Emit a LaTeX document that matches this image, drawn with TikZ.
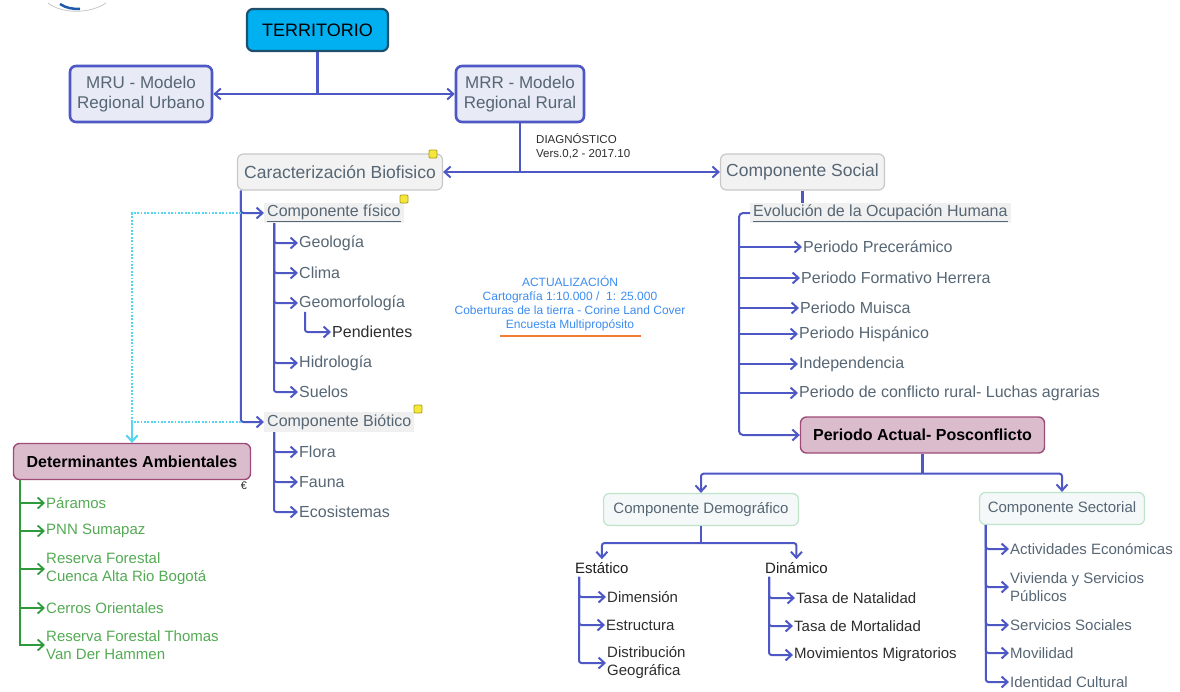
\documentclass[tikz,border=0pt]{standalone}
\usepackage{fontspec}
\setmainfont{Liberation Sans}
\usetikzlibrary{arrows.meta,calc}
\definecolor{lb}{RGB}{78,88,196}
\definecolor{tg}{RGB}{86,102,116}
\definecolor{dk}{RGB}{45,45,45}
\definecolor{blk}{RGB}{30,30,30}
\definecolor{grn}{RGB}{47,154,60}
\definecolor{grt}{RGB}{84,170,84}
\definecolor{upd}{RGB}{60,140,240}
\definecolor{cy}{RGB}{85,213,238}
\definecolor{notef}{RGB}{245,230,60}
\definecolor{noted}{RGB}{170,160,20}
\definecolor{logob}{RGB}{30,90,170}
\definecolor{terrd}{RGB}{30,80,110}
\definecolor{terrf}{RGB}{0,176,240}
\definecolor{bluef}{RGB}{232,234,246}
\definecolor{grayd}{RGB}{200,200,200}
\definecolor{grayf}{RGB}{242,242,242}
\definecolor{lblf}{RGB}{240,240,240}
\definecolor{pinkd}{RGB}{158,75,120}
\definecolor{pinkf}{RGB}{219,188,205}
\definecolor{greend}{RGB}{190,228,202}
\definecolor{greenf}{RGB}{244,248,248}
\definecolor{orng}{RGB}{240,125,50}
\tikzset{
  tip/.tip={Straight Barb[length=6pt,width=11pt]},
  conn/.style={draw=lb, line width=2pt, rounded corners=2.5pt, -tip},
  trunk/.style={draw=lb, line width=2.2pt, rounded corners=3pt},
  gconn/.style={draw=grn, line width=1.8pt, -tip},
  dotc/.style={draw=cy, line width=1.8pt, dash pattern=on 1.8pt off 1.6pt, -tip},
  terr/.style={draw=terrd, fill=terrf, line width=2.2pt, rounded corners=6pt, minimum width=141pt, minimum height=42pt, font=\fontsize{18}{21}\selectfont, text=black, inner sep=0pt},
  bluebox/.style={draw=lb, fill=bluef, line width=2.6pt, rounded corners=6pt, text=tg, font=\fontsize{17}{20}\selectfont, align=center, inner sep=0pt, minimum height=56pt},
  graybox/.style={draw=grayd, fill=grayf, line width=1.2pt, rounded corners=6pt, text=tg, font=\fontsize{17.5}{21}\selectfont, inner sep=0pt, minimum height=36pt},
  pinkbox/.style={draw=pinkd, fill=pinkf, line width=1.4pt, rounded corners=6pt, text=black, font=\bfseries\fontsize{16}{19}\selectfont, inner sep=0pt, minimum height=36pt},
  greenbox/.style={draw=greend, fill=greenf, line width=1.2pt, rounded corners=6pt, text=tg, font=\fontsize{15}{18}\selectfont, inner sep=0pt, minimum height=32pt},
  lbl/.style={anchor=west, fill=lblf, text=tg, font=\fontsize{16}{19}\selectfont, inner xsep=3pt, inner ysep=0pt, minimum height=20pt},
  item/.style={anchor=west, inner sep=1pt, text=tg, font=\fontsize{16}{19}\selectfont, align=left},
  sitem/.style={anchor=west, inner sep=1pt, text=tg, font=\fontsize{15}{18}\selectfont, align=left},
  ditem/.style={anchor=west, inner sep=1pt, text=dk, font=\fontsize{15}{18}\selectfont, align=left},
  gitem/.style={anchor=west, inner sep=1pt, text=grt, font=\fontsize{15}{18}\selectfont, align=left},
  note/.style={draw=noted, fill=notef, line width=0.8pt, minimum size=8pt, inner sep=0pt, rounded corners=1pt}
}
\begin{document}
\begin{tikzpicture}[x=1pt,y=-1pt]
\useasboundingbox (0,0) rectangle (1180,691);
% logo fragment
\draw[gray!45, line width=0.8pt] (48,3) .. controls (62,14) and (90,14) .. (106,3);
\draw[logob, line width=2.5pt] (60,4) .. controls (66,8) and (72,9) .. (80,9);

% top
\node[terr] (terr) at (317.5,30) {TERRITORIO};
\node[bluebox, minimum width=142pt] (mru) at (141,94) {MRU - Modelo\\Regional Urbano};
\node[bluebox, minimum width=128pt] (mrr) at (520,94) {MRR - Modelo\\Regional Rural};
\coordinate (j1) at (317.5,94);
\draw[trunk] (terr.south) -- (j1);
\draw[conn] (j1) -- (mru.east);
\draw[conn] (j1) -- (mrr.west);

\node[graybox, minimum width=205pt] (cbio) at (340,172) {Caracterización Biofisico};
\node[graybox, minimum width=164pt] (csoc) at (802.5,172) {Componente Social};
\node[note] (n1) at (433,154) {};
\coordinate (j2) at (520,172);
\draw[trunk] (mrr.south) -- (j2);
\draw[conn] (j2) -- (cbio.east);
\draw[conn] (j2) -- (csoc.west);
\node[anchor=north west, align=left, text=dk, font=\fontsize{11.5}{14}\selectfont, inner sep=0pt] (diag) at (536,133) {DIAGNÓSTICO\\Vers.0,2 - 2017.10};

% left tree
\node[lbl] (cfis) at (264,213) {\underline{Componente físico}\hspace{6pt}};
\node[lbl] (cbiot) at (264,422) {Componente Biótico\hspace{10pt}};
\node[note] (n2) at (404,199) {};
\node[note] (n3) at (418,409) {};
\coordinate (t1) at ([xshift=4pt]cbio.south west);
\draw[conn] (t1) |- (cfis.west);
\draw[conn] (t1) |- (cbiot.west);

\node[item] (geo) at (298,243) {Geología};
\node[item] (cli) at (298,273) {Clima};
\node[item] (gmf) at (298,303) {Geomorfología};
\node[item, text=dk] (pend) at (331,332) {Pendientes};
\node[item] (hid) at (298,363) {Hidrología};
\node[item] (sue) at (298,392) {Suelos};
\coordinate (t2) at ([xshift=10pt]cfis.south west);
\foreach \n in {geo,cli,gmf,hid,sue} \draw[conn] (t2) |- (\n.west);
\coordinate (t3) at ([xshift=7pt]gmf.south west);
\draw[conn] (t3) |- (pend.west);

\node[item] (flo) at (298,452) {Flora};
\node[item] (fau) at (298,482) {Fauna};
\node[item] (eco) at (298,512) {Ecosistemas};
\coordinate (t4) at ([xshift=10pt]cbiot.south west);
\foreach \n in {flo,fau,eco} \draw[conn] (t4) |- (\n.west);

% determinantes
\node[pinkbox, minimum width=237pt] (det) at (132,461.5) {Determinantes Ambientales\hspace{6pt}};
\node[text=dk, font=\fontsize{11}{13}\selectfont, inner sep=0pt] (eur) at (244,486) {€};
\draw[dotc] (t1 |- cfis.west) -| (det.north);
\draw[dotc] (t1 |- cbiot.west) -| (det.north);
\node[gitem] (par) at (45,503) {Páramos};
\node[gitem] (pnn) at (45,531) {PNN Sumapaz};
\node[gitem] (rfc) at (45,569) {Reserva Forestal\\Cuenca Alta Rio Bogotá};
\node[gitem] (cer) at (45,608) {Cerros Orientales};
\node[gitem] (rft) at (45,645) {Reserva Forestal Thomas\\Van Der Hammen};
\coordinate (g1) at ([xshift=7pt]det.south west);
\foreach \n in {par,pnn,rfc,cer,rft} \draw[gconn] (g1) |- (\n.west);

% actualizacion
\node[align=center, text=upd, font=\fontsize{12}{14}\selectfont, inner sep=0pt] (act) at (570,304) {ACTUALIZACIÓN\\Cartografía 1:10.000 /\ \ 1: 25.000\\Coberturas de la tierra - Corine Land Cover\\Encuesta Multipropósito};
\draw[draw=orng, line width=1.6pt] (500,336) -- (641,336);

% social tree
\node[lbl] (evo) at (750,213) {\underline{Evolución de la Ocupación Humana}\hspace{8pt}};
\draw[trunk] (csoc.south) -- (csoc.south |- evo.north);
\node[item] (pre) at (802,247) {Periodo Precerámico};
\node[item] (for) at (800,278) {Periodo Formativo Herrera};
\node[item] (mui) at (799,308) {Periodo Muisca};
\node[item] (his) at (798,334) {Periodo Hispánico};
\node[item] (ind) at (798,364) {Independencia};
\node[item] (con) at (798,393) {Periodo de conflicto rural- Luchas agrarias};
\node[pinkbox, minimum width=244pt] (pac) at (922.5,435) {Periodo Actual- Posconflicto\hspace{12pt}};
\coordinate (t5) at (739,435);
\draw[conn, rounded corners=4pt] (evo.west) -| (t5) -- (pac.west);
\foreach \n in {pre,for,mui,his,ind,con} \draw[conn] (t5 |- \n.west) -- (\n.west);

% lower
\node[greenbox, minimum width=195pt] (dem) at (701,509.5) {Componente Demográfico};
\node[greenbox, minimum width=165pt] (sec) at (1062,508.5) {Componente Sectorial};
\coordinate (j3) at ([yshift=-20pt]pac.south);
\draw[trunk] (pac.south) -- (j3);
\draw[conn] (j3) -| (dem.north);
\draw[conn] (j3) -| (sec.north);

\node[ditem, text=blk, inner ysep=3pt] (est) at (574,568) {Estático};
\node[ditem, text=blk, inner ysep=3pt] (din) at (764,568) {Dinámico};
\coordinate (j4) at ([yshift=-17pt]dem.south);
\draw[trunk] (dem.south) -- (j4);
\draw[conn] (j4) -| (est.north);
\draw[conn] (j4) -| (din.north);

\node[ditem] (dim) at (606,597) {Dimensión};
\node[ditem] (estr) at (605,625) {Estructura};
\node[ditem] (dis) at (606,663) {Distribución\\Geográfica};
\coordinate (t6) at ([xshift=5pt]est.south west);
\foreach \n in {dim,estr,dis} \draw[conn] (t6) |- (\n.west);

\node[ditem] (nat) at (795,598) {Tasa de Natalidad};
\node[ditem] (mor) at (793,626) {Tasa de Mortalidad};
\node[ditem] (mov) at (793,655) {Movimientos Migratorios};
\coordinate (t7) at ([xshift=5pt]din.south west);
\foreach \n in {nat,mor,mov} \draw[conn] (t7) |- (\n.west);

\node[sitem] (act1) at (1009,549) {Actividades Económicas};
\node[sitem] (viv) at (1009,587) {Vivienda y Servicios\\Públicos};
\node[sitem] (ssoc) at (1009,625) {Servicios Sociales};
\node[sitem] (mvl) at (1009,653) {Movilidad};
\node[sitem] (idc) at (1009,682) {Identidad Cultural};
\coordinate (t8) at ([xshift=7pt]sec.south west);
\foreach \n in {act1,viv,ssoc,mvl,idc} \draw[conn] (t8) |- (\n.west);
\end{tikzpicture}
\end{document}
